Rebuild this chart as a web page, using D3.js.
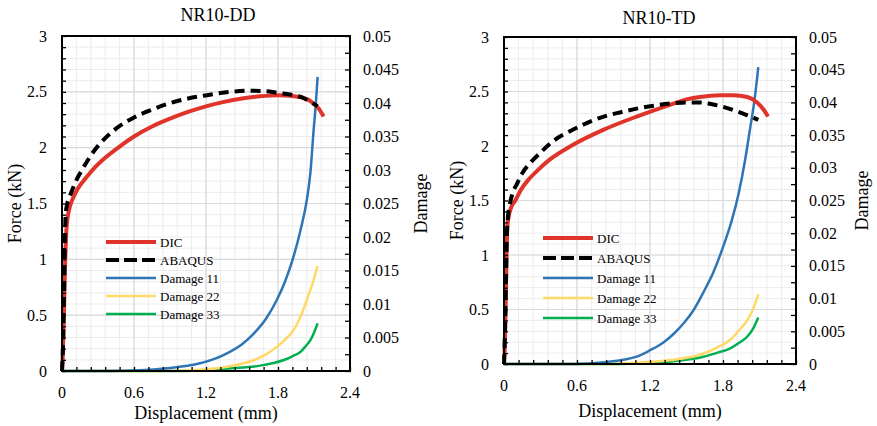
<!DOCTYPE html>
<html>
<head>
<meta charset="utf-8">
<script src="https://cdn.jsdelivr.net/npm/d3@7.9.0/dist/d3.min.js"></script>
<style>
  body { margin: 0; background: #fff; }
  svg text { font-family: "Liberation Serif", "Times New Roman", serif; }
</style>
</head>
<body>
<svg id="chart" width="877" height="426"></svg>
<script>
// ---- data ----
const xTicks = [0, 0.6, 1.2, 1.8, 2.4];
const forceTicks = [0, 0.5, 1, 1.5, 2, 2.5, 3];
const damageTicks = [0, 0.005, 0.01, 0.015, 0.02, 0.025, 0.03, 0.035, 0.04, 0.045, 0.05];
const seriesNames = ["DIC", "ABAQUS", "Damage 11", "Damage 22", "Damage 33"];

// NR10-DD  [displacement mm, force kN] / [displacement mm, damage]
const ddDIC = [[0,0],[0.005,0.1],[0.012,0.35],[0.018,0.6],[0.024,0.9],[0.03,1.1],[0.036,1.25],[0.045,1.36],
  [0.06,1.45],[0.085,1.53],[0.13,1.63],[0.2,1.73],[0.28,1.83],[0.36,1.91],[0.48,2.01],[0.6,2.1],[0.75,2.19],
  [0.9,2.26],[1.05,2.32],[1.2,2.37],[1.35,2.41],[1.5,2.44],[1.65,2.46],[1.8,2.47],[1.9,2.465],[2.0,2.45],
  [2.08,2.41],[2.14,2.35],[2.18,2.28]];
const ddABAQUS = [[0,0],[0.01,0.3],[0.017,0.7],[0.022,1.0],[0.026,1.25],[0.03,1.4],[0.04,1.48],[0.06,1.55],
  [0.085,1.62],[0.12,1.71],[0.167,1.8],[0.24,1.93],[0.32,2.04],[0.45,2.17],[0.6,2.27],[0.75,2.34],[0.875,2.39],
  [1.05,2.44],[1.21,2.47],[1.4,2.5],[1.55,2.51],[1.7,2.505],[1.8,2.49],[1.93,2.47],[2.0,2.45],[2.07,2.41],[2.13,2.37]];
const ddDamage11 = [[0,0],[0.4,0],[0.65,0.0001],[0.875,0.0004],[1.15,0.00115],[1.27,0.0018],[1.375,0.00264],
  [1.5,0.004],[1.6,0.00563],[1.7,0.0078],[1.79,0.0106],[1.86,0.0134],[1.93,0.0171],[1.99,0.0212],[2.04,0.0255],
  [2.07,0.0296],[2.097,0.036],[2.115,0.0398],[2.13,0.0439]];
const ddDamage22 = [[0,0],[0.8,0],[1.15,0.0002],[1.375,0.00064],[1.6,0.00164],[1.7,0.00248],[1.79,0.0036],
  [1.86,0.0047],[1.93,0.0061],[1.99,0.0082],[2.04,0.0106],[2.09,0.0132],[2.13,0.0157]];
const ddDamage33 = [[0,0],[1.0,0],[1.15,0.0001],[1.42,0.0004],[1.65,0.0008],[1.75,0.00115],[1.85,0.00164],
  [1.92,0.0022],[1.99,0.0029],[2.03,0.0037],[2.07,0.0046],[2.1,0.0057],[2.13,0.0071]];

// NR10-TD
const tdDIC = [[0,0],[0.006,0.15],[0.012,0.45],[0.018,0.8],[0.022,1.05],[0.027,1.25],[0.038,1.35],[0.06,1.44],
  [0.093,1.5],[0.14,1.6],[0.2,1.69],[0.27,1.77],[0.37,1.87],[0.55,2.0],[0.82,2.15],[1.09,2.27],[1.37,2.38],
  [1.51,2.43],[1.61,2.45],[1.78,2.465],[1.885,2.465],[2.0,2.45],[2.08,2.4],[2.13,2.34],[2.17,2.27]];
const tdABAQUS = [[0,0],[0.008,0.3],[0.015,0.7],[0.02,1.0],[0.025,1.22],[0.03,1.32],[0.045,1.45],[0.066,1.55],
  [0.11,1.66],[0.15,1.75],[0.22,1.85],[0.3,1.94],[0.41,2.05],[0.55,2.14],[0.68,2.21],[0.82,2.27],[0.96,2.31],
  [1.1,2.345],[1.23,2.37],[1.37,2.39],[1.51,2.4],[1.61,2.4],[1.7,2.385],[1.8,2.36],[1.885,2.33],[1.96,2.3],
  [2.03,2.27],[2.09,2.24]];
const tdDamage11 = [[0,0],[0.6,0],[0.82,0.00025],[1.09,0.00112],[1.2,0.0021],[1.31,0.0033],[1.4,0.0047],
  [1.48,0.0063],[1.56,0.0083],[1.64,0.011],[1.72,0.014],[1.81,0.0184],[1.87,0.0218],[1.93,0.0262],
  [1.98,0.031],[2.02,0.0357],[2.06,0.0405],[2.09,0.0454]];
const tdDamage22 = [[0,0],[0.8,0],[1.09,0.0002],[1.37,0.0006],[1.64,0.0016],[1.75,0.0025],[1.86,0.0037],
  [1.93,0.0051],[2.0,0.0067],[2.05,0.0085],[2.09,0.0107]];
const tdDamage33 = [[0,0],[0.9,0],[1.09,0.0001],[1.37,0.0004],[1.64,0.0011],[1.75,0.0017],[1.86,0.0024],
  [1.93,0.0032],[2.0,0.0042],[2.05,0.0055],[2.09,0.0071]];

// ---- drawing ----
const svg = d3.select("#chart");
const styles = {
  "DIC": { color: "#e0342a", width: 4, dash: null, axis: "force" },
  "ABAQUS": { color: "#000", width: 4, dash: "10,6", axis: "force" },
  "Damage 11": { color: "#2e75b6", width: 2.5, dash: null, axis: "damage" },
  "Damage 22": { color: "#ffd966", width: 2.5, dash: null, axis: "damage" },
  "Damage 33": { color: "#00b050", width: 2.5, dash: null, axis: "damage" }
};

function drawPanel(p) {
  const x = d3.scaleLinear().domain([0, 2.4]).range([p.left, p.right]);
  const yF = d3.scaleLinear().domain([0, 3]).range([p.bottom, p.top]);
  const yD = d3.scaleLinear().domain([0, 0.05]).range([p.bottom, p.top]);
  const g = svg.append("g");

  // grid: minor then major
  const xMinor = d3.range(0, 2.4001, 0.12);
  const yMinor = d3.range(0, 3.0001, 0.1);
  g.append("g").selectAll("line").data(xMinor).join("line")
    .attr("x1", d => x(d)).attr("x2", d => x(d)).attr("y1", p.top).attr("y2", p.bottom)
    .attr("stroke", "#ececec").attr("stroke-width", 1);
  g.append("g").selectAll("line").data(yMinor).join("line")
    .attr("y1", d => yF(d)).attr("y2", d => yF(d)).attr("x1", p.left).attr("x2", p.right)
    .attr("stroke", "#ececec").attr("stroke-width", 1);
  g.append("g").selectAll("line").data(xTicks).join("line")
    .attr("x1", d => x(d)).attr("x2", d => x(d)).attr("y1", p.top).attr("y2", p.bottom)
    .attr("stroke", "#d9d9d9").attr("stroke-width", 1.2);
  g.append("g").selectAll("line").data(forceTicks).join("line")
    .attr("y1", d => yF(d)).attr("y2", d => yF(d)).attr("x1", p.left).attr("x2", p.right)
    .attr("stroke", "#d9d9d9").attr("stroke-width", 1.2);

  // series
  const data = { "DIC": p.dic, "ABAQUS": p.abaqus, "Damage 11": p.d11, "Damage 22": p.d22, "Damage 33": p.d33 };
  const order = ["Damage 33", "Damage 22", "Damage 11", "DIC", "ABAQUS"];
  order.forEach(name => {
    const s = styles[name];
    const yy = s.axis === "force" ? yF : yD;
    const line = d3.line().x(d => x(d[0])).y(d => yy(d[1])).curve(d3.curveMonotoneX);
    g.append("path").datum(data[name])
      .attr("d", line).attr("fill", "none")
      .attr("stroke", s.color).attr("stroke-width", s.width)
      .attr("stroke-dasharray", s.dash)
      .attr("stroke-linejoin", "round");
  });

  // inside ticks
  const tickLen = 4;
  g.append("g").attr("transform", `translate(${p.left},0)`)
    .call(d3.axisLeft(yF).tickValues(yMinor).tickSize(-tickLen).tickFormat(""))
    .call(a => a.select(".domain").remove());
  g.append("g").attr("transform", `translate(0,${p.bottom})`)
    .call(d3.axisBottom(x).tickValues(xMinor).tickSize(-tickLen).tickFormat(""))
    .call(a => a.select(".domain").remove());
  g.append("g").attr("transform", `translate(${p.right},0)`)
    .call(d3.axisRight(yD).tickValues(d3.range(0, 0.05001, 0.0025)).tickSize(-tickLen - 1).tickFormat(""))
    .call(a => a.select(".domain").remove());
  g.selectAll(".tick line").attr("stroke", "#000").attr("stroke-width", 1.3);

  // frame
  g.append("rect").attr("x", p.left).attr("y", p.top)
    .attr("width", p.right - p.left).attr("height", p.bottom - p.top)
    .attr("fill", "none").attr("stroke", "#000").attr("stroke-width", 2);

  // tick labels
  const tf = "16px";
  g.append("g").selectAll("text").data(xTicks).join("text")
    .attr("x", d => x(d)).attr("y", p.bottom + 21).attr("text-anchor", "middle")
    .attr("dominant-baseline", "central").attr("font-size", tf).text(d => d);
  g.append("g").selectAll("text").data(forceTicks).join("text")
    .attr("x", p.left - 15).attr("y", d => yF(d)).attr("text-anchor", "end")
    .attr("dominant-baseline", "central").attr("font-size", tf).text(d => d);
  g.append("g").selectAll("text").data(damageTicks).join("text")
    .attr("x", p.right + 13).attr("y", d => yD(d)).attr("text-anchor", "start")
    .attr("dominant-baseline", "central").attr("font-size", tf).text(d => +d.toFixed(3));

  // titles
  g.append("text").attr("x", p.titleX).attr("y", p.titleY).attr("text-anchor", "middle")
    .attr("font-size", "18px").text(p.title);
  g.append("text").attr("x", (p.left + p.right) / 2).attr("y", p.xLabelY).attr("text-anchor", "middle")
    .attr("dominant-baseline", "central").attr("font-size", "18px").text("Displacement (mm)");
  const midY = (p.top + p.bottom) / 2;
  g.append("text").attr("transform", `translate(${p.yLabelX},${midY}) rotate(-90)`)
    .attr("text-anchor", "middle").attr("dominant-baseline", "central")
    .attr("font-size", "18px").text("Force (kN)");
  g.append("text").attr("transform", `translate(${p.dLabelX},${midY}) rotate(-90)`)
    .attr("text-anchor", "middle").attr("dominant-baseline", "central")
    .attr("font-size", "18px").text("Damage");

  // legend
  const lg = g.append("g");
  seriesNames.forEach((name, i) => {
    const s = styles[name];
    const yy = p.legY + i * p.legStep;
    lg.append("line").attr("x1", p.legX).attr("x2", p.legX + 50).attr("y1", yy).attr("y2", yy)
      .attr("stroke", s.color).attr("stroke-width", s.width)
      .attr("stroke-dasharray", s.dash ? "13,5" : null);
    lg.append("text").attr("x", p.legX + 54).attr("y", yy).attr("dominant-baseline", "central")
      .attr("font-size", "13px").text(name);
  });
}

drawPanel({
  title: "NR10-DD", left: 62, right: 350, top: 36, bottom: 371,
  titleX: 218, titleY: 21, xLabelY: 413, yLabelX: 15, dLabelX: 421,
  legX: 106, legY: 242, legStep: 18,
  dic: ddDIC, abaqus: ddABAQUS, d11: ddDamage11, d22: ddDamage22, d33: ddDamage33
});
drawPanel({
  title: "NR10-TD", left: 504, right: 796, top: 37, bottom: 364,
  titleX: 659, titleY: 24, xLabelY: 411, yLabelX: 457, dLabelX: 862,
  legX: 543, legY: 238, legStep: 20,
  dic: tdDIC, abaqus: tdABAQUS, d11: tdDamage11, d22: tdDamage22, d33: tdDamage33
});
</script>
</body>
</html>
